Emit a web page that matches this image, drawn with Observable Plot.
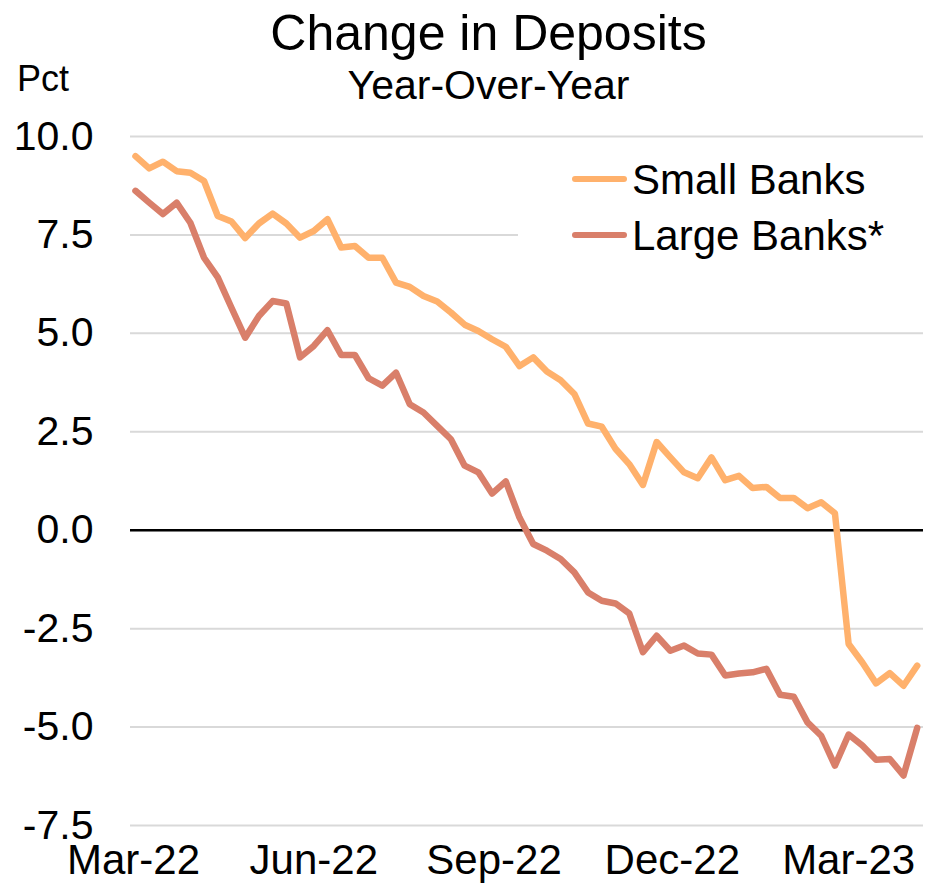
<!DOCTYPE html>
<html>
<head>
<meta charset="utf-8">
<script src="https://cdn.jsdelivr.net/npm/d3@7"></script>
<script src="https://cdn.jsdelivr.net/npm/@observablehq/plot@0.6"></script>
<style>
  body { margin: 0; background: white; }
  #wrap { position: relative; width: 926px; height: 885px; background: white; font-family: "Liberation Sans", Arial, sans-serif; color: black; }
  .t { position: absolute; line-height: 1; white-space: nowrap; }
  #chart { position: absolute; left: 0; top: 0; }
  #legend { position: absolute; left: 518px; top: 148px; width: 405px; height: 114px; background: white; }
  .sw { position: absolute; height: 6.5px; border-radius: 3.25px; }
</style>
</head>
<body>
<div id="wrap">
  <div id="chart"></div>
  <div class="t" style="left:0;width:977px;text-align:center;top:7.7px;font-size:50px;">Change in Deposits</div>
  <div class="t" style="left:0;width:977px;text-align:center;top:65px;font-size:41px;">Year-Over-Year</div>
  <div class="t" style="left:17px;top:60.5px;font-size:36px;">Pct</div>
  <div id="legend"></div>
</div>
<script>
// ---- data ----
const seriesNames = ["Small Banks", "Large Banks*"];
const seriesColors = ["#FFB16C", "#D97F6A"];
const firstWeek = "2022-03-02"; // weekly observations (Wednesdays)
const smallBanks = [
  9.50, 9.19, 9.36, 9.12, 9.08, 8.87, 7.98, 7.84, 7.42, 7.79,
  8.04, 7.79, 7.43, 7.60, 7.90, 7.18, 7.22, 6.92, 6.92, 6.29,
  6.18, 5.95, 5.81, 5.53, 5.22, 5.06, 4.85, 4.66, 4.17, 4.39,
  4.03, 3.81, 3.46, 2.71, 2.63, 2.07, 1.68, 1.15, 2.24, 1.85,
  1.47, 1.32, 1.85, 1.27, 1.38, 1.07, 1.10, 0.82, 0.82, 0.56,
  0.71, 0.43, -2.89, -3.36, -3.89, -3.63, -3.95, -3.44
];
const largeBanks = [
  8.62, 8.32, 8.03, 8.32, 7.81, 6.92, 6.42, 5.65, 4.89, 5.44,
  5.82, 5.76, 4.39, 4.68, 5.08, 4.45, 4.45, 3.86, 3.67, 4.00,
  3.20, 2.99, 2.65, 2.31, 1.64, 1.47, 0.93, 1.24, 0.32, -0.35,
  -0.52, -0.73, -1.07, -1.58, -1.79, -1.86, -2.11, -3.10, -2.68, -3.06,
  -2.93, -3.13, -3.16, -3.69, -3.64, -3.61, -3.52, -4.18, -4.23, -4.88,
  -5.22, -5.98, -5.19, -5.47, -5.83, -5.81, -6.23, -5.02
];
const yTicks = [-7.5, -5.0, -2.5, 0.0, 2.5, 5.0, 7.5, 10.0];
const xTickDates = ["2022-03-01", "2022-06-01", "2022-09-01", "2022-12-01", "2023-03-01"];
const xDomain = ["2022-02-27T11:00:00Z", "2023-04-08T05:00:00Z"];

// ---- build table ----
const start = new Date(firstWeek + "T00:00:00Z");
const dates = smallBanks.map((_, i) => d3.utcDay.offset(start, 7 * i));
const data = [];
[smallBanks, largeBanks].forEach((vals, s) => {
  vals.forEach((v, i) => data.push({date: dates[i], value: v, series: seriesNames[s]}));
});

const chart = Plot.plot({
  width: 926,
  height: 885,
  marginTop: 136,
  marginBottom: 60,
  marginLeft: 130,
  marginRight: 3,
  style: {fontFamily: '"Liberation Sans", Arial, sans-serif', fontSize: "41px", color: "black", background: "transparent", overflow: "visible"},
  x: {type: "utc", domain: xDomain.map(d => new Date(d)), label: null},
  y: {domain: [-7.5, 10], label: null},
  color: {domain: seriesNames, range: seriesColors},
  marks: [
    Plot.gridY(yTicks, {stroke: "#D9D9D9", strokeOpacity: 1, strokeWidth: 2}),
    Plot.ruleY([0], {stroke: "black", strokeWidth: 2.5}),
    Plot.axisY(yTicks, {tickSize: 0, tickPadding: 37, tickFormat: d => d.toFixed(1), fontSize: 41, label: null}),
    Plot.axisX(xTickDates.map(d => new Date(d + "T00:00:00Z")), {tickSize: 0, tickPadding: 19, tickFormat: d3.utcFormat("%b-%y"), fontSize: 42, label: null}),
    Plot.line(data, {x: "date", y: "value", z: "series", stroke: "series", strokeWidth: 6.5, strokeLinejoin: "round", strokeLinecap: "round"})
  ]
});
document.getElementById("chart").appendChild(chart);

// ---- legend ----
const legend = document.getElementById("legend");
seriesNames.forEach((name, i) => {
  const sw = document.createElement("div");
  sw.className = "sw";
  sw.style.left = (572 - 518) + "px";
  sw.style.width = "55px";
  sw.style.top = (179 + 56 * i - 148 - 3.25) + "px";
  sw.style.background = seriesColors[i];
  legend.appendChild(sw);
  const tx = document.createElement("div");
  tx.className = "t";
  tx.style.left = (632 - 518) + "px";
  tx.style.top = (195 + 56 * i - 148 - 35.6) + "px";
  tx.style.fontSize = "42px";
  tx.textContent = name;
  legend.appendChild(tx);
});
</script>
</body>
</html>
